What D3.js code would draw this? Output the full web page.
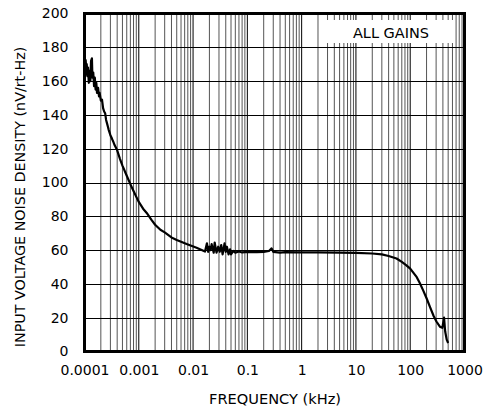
<!DOCTYPE html>
<html>
<head>
<meta charset="utf-8">
<script src="https://cdn.jsdelivr.net/npm/d3@7"></script>
<style>
  html, body { margin: 0; padding: 0; background: #fff; }
  svg { display: block; }
  text { font-family: "DejaVu Sans", sans-serif; fill: #000; }
</style>
</head>
<body>
<svg id="chart" width="492" height="414"></svg>
<script>
// ---- Data ----
const freqKHz = [
  0.0001, 0.000102, 0.000105, 0.000108, 0.00011, 0.000113, 0.000116, 0.00012, 0.000124, 0.000128,
  0.000132, 0.000137, 0.00014, 0.000145, 0.00015, 0.000155, 0.00016, 0.000165, 0.00017, 0.000178,
  0.000185, 0.00019, 0.0002, 0.00021, 0.00022, 0.00023, 0.00024, 0.00025, 0.00026, 0.00027,
  0.00028, 0.0003, 0.00032, 0.00034, 0.00036, 0.00038, 0.0004, 0.00045, 0.0005, 0.0006,
  0.0007, 0.0008, 0.0009, 0.001, 0.0012, 0.0014, 0.0017, 0.002, 0.0025, 0.003,
  0.004, 0.005, 0.0076, 0.0116, 0.0166, 0.018, 0.019, 0.02, 0.021, 0.022,
  0.024, 0.025, 0.027, 0.029, 0.031, 0.033, 0.035, 0.038, 0.04, 0.042,
  0.045, 0.048, 0.05, 0.055, 0.06, 0.07, 0.08, 0.1, 0.15, 0.2,
  0.25, 0.28, 0.3, 0.4, 0.5, 1, 2, 5, 10, 20,
  30, 40, 56, 70, 85, 100, 132, 150, 174, 200,
  230, 270, 306, 352, 390, 410, 420, 440, 470, 500
];
const noiseDensity = [
  170, 162, 172.5, 167, 170, 163, 168, 159, 166, 160,
  172, 173.5, 162, 165, 157, 162, 155, 159, 153, 156,
  151, 153, 148.5, 149, 144, 142, 141, 137, 135, 133,
  131, 128, 126, 124, 122, 120.5, 119, 114, 110, 104,
  99, 95, 91.5, 88.5, 84.5, 82, 78, 75, 72, 70.5,
  67.5, 66, 63.6, 61.4, 59.1, 64, 59, 62, 60, 63.5,
  58.5, 64.5, 58.5, 62, 59, 63, 57.5, 64, 59, 62,
  57.5, 60.5, 57.5, 59.5, 58.5, 59.2, 58.6, 59, 58.8, 59,
  59.5, 61, 59, 58.5, 58.8, 58.7, 58.6, 58.5, 58.3, 58,
  57.5, 56.5, 55, 53, 51, 49, 44, 40.5, 36, 31.5,
  26.5, 21, 17.6, 14.7, 14, 18, 20, 12, 7, 5
];
const xTickValues = [0.0001, 0.001, 0.01, 0.1, 1, 10, 100, 1000];
const xTickLabels = ["0.0001", "0.001", "0.01", "0.1", "1", "10", "100", "1000"];
const yTickValues = [0, 20, 40, 60, 80, 100, 120, 140, 160, 180, 200];
const xTitle = "FREQUENCY (kHz)";
const yTitle = "INPUT VOLTAGE NOISE DENSITY (nV/rt-Hz)";
const legendText = "ALL GAINS";

// ---- Layout ----
const L = 84.5, R = 464.5, T = 13.5, B = 351.5;
const svg = d3.select("#chart");

const x = d3.scaleLog().domain([0.0001, 1000]).range([L, R]);
const y = d3.scaleLinear().domain([0, 200]).range([B, T]);

// minor grid values
const minorVals = [];
for (let e = -4; e < 3; e++) {
  for (let m = 2; m <= 9; m++) minorVals.push(m * Math.pow(10, e));
}

const grid = svg.append("g");
grid.selectAll("line.minor").data(minorVals).enter().append("line")
  .attr("x1", d => x(d)).attr("x2", d => x(d))
  .attr("y1", T).attr("y2", B)
  .attr("stroke", "#555").attr("stroke-width", 1);
grid.selectAll("line.major").data(xTickValues).enter().append("line")
  .attr("x1", d => x(d)).attr("x2", d => x(d))
  .attr("y1", T).attr("y2", B)
  .attr("stroke", "#000").attr("stroke-width", 1);
grid.selectAll("line.h").data(yTickValues).enter().append("line")
  .attr("x1", L).attr("x2", R)
  .attr("y1", d => Math.round(y(d)) + 0.5).attr("y2", d => Math.round(y(d)) + 0.5)
  .attr("stroke", "#000").attr("stroke-width", 1);

// legend box
svg.append("rect").attr("x", 320).attr("y", 20).attr("width", 135).attr("height", 23)
  .attr("fill", "#fff");
svg.append("text").attr("x", 391).attr("y", 38).attr("text-anchor", "middle")
  .style("font-size", "14.5px").text(legendText);

// curve
const line = d3.line().x((d, i) => x(freqKHz[i])).y(d => y(d));
svg.append("path").datum(noiseDensity)
  .attr("d", line).attr("fill", "none").attr("stroke", "#000")
  .attr("stroke-width", 2.2).attr("stroke-linejoin", "round");

// frame
svg.append("rect").attr("x", L).attr("y", T).attr("width", R - L).attr("height", B - T)
  .attr("fill", "none").attr("stroke", "#000").attr("stroke-width", 3);

// axes (labels only)
const xAxis = d3.axisBottom(x).tickValues(xTickValues)
  .tickFormat((d, i) => xTickLabels[i]).tickSize(0).tickPadding(14);
const gx = svg.append("g").attr("transform", `translate(0,${B})`).call(xAxis);
gx.select(".domain").remove();
gx.selectAll("text").style("font-size", "14px").style("font-family", "DejaVu Sans, sans-serif");

const yAxis = d3.axisLeft(y).tickValues(yTickValues).tickSize(0).tickPadding(16);
const gy = svg.append("g").attr("transform", `translate(${L},0)`).call(yAxis);
gy.select(".domain").remove();
gy.selectAll("text").style("font-size", "14px").style("font-family", "DejaVu Sans, sans-serif");

// titles
svg.append("text").attr("x", 275).attr("y", 404).attr("text-anchor", "middle")
  .style("font-size", "14.6px").text(xTitle);
svg.append("text").attr("transform", "translate(25,197) rotate(-90)")
  .attr("text-anchor", "middle").style("font-size", "14.3px").text(yTitle);
</script>
</body>
</html>
